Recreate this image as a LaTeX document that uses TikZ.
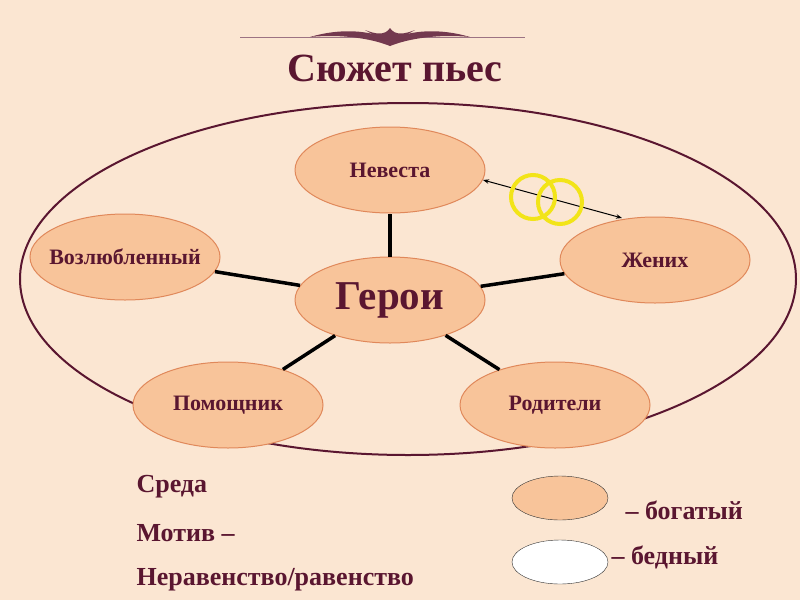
\documentclass[tikz,border=0pt]{standalone}
\usepackage{fontspec}
\setmainfont{Liberation Serif}
\usetikzlibrary{shapes.geometric,arrows.meta}
\definecolor{bg}{HTML}{FBE6D2}
\definecolor{peach}{HTML}{F8C49A}
\definecolor{peachb}{HTML}{E0885A}
\definecolor{maroon}{HTML}{5A1630}
\definecolor{ringy}{HTML}{F2E418}
\begin{document}
\begin{tikzpicture}[x=1pt,y=-1pt,
  hero/.style={ellipse,draw=peachb,fill=peach,line width=1pt,minimum width=190pt,minimum height=86pt,inner sep=0pt,
     label={[font=\bfseries\fontsize{22}{24}\selectfont,text=maroon]center:#1}},
  link/.style={line width=3.5pt,black},
  lab/.style={anchor=west,font=\bfseries\fontsize{26}{28}\selectfont,text=maroon}]
\useasboundingbox[fill=bg] (0,0) rectangle (800,600);
% ornament
\draw[maroon!60,line width=1pt] (240,37) -- (525,37);
\fill[maroon!85] (310,37) .. controls (340,28) and (370,30) .. (390,40) .. controls (410,30) and (440,28) .. (470,37) .. controls (440,34) and (410,38) .. (390,46) .. controls (370,38) and (340,34) .. (310,37);
\fill[maroon!85] (365,30) .. controls (375,36) and (385,40) .. (390,46) .. controls (395,40) and (405,36) .. (415,30) .. controls (405,34) and (395,36) .. (390,28) .. controls (385,36) and (375,34) .. (365,30);
\node[font=\bfseries\fontsize{40}{42}\selectfont,text=maroon] (title) at (395,68) {Сюжет пьес};
\draw[maroon,line width=2pt] (408,279) ellipse [x radius=388pt, y radius=176pt];
\node[hero=Невеста] (nev) at (390,170) {};
\node[hero=Жених] (zhe) at (655,260) {};
\node[hero=Возлюбленный] (voz) at (125,257) {};
\node[hero=Помощник] (pom) at (228,405) {};
\node[hero=Родители] (rod) at (555,405) {};
\node[ellipse,draw=peachb,fill=peach,line width=1pt,minimum width=190pt,minimum height=86pt,inner sep=0pt,font=\bfseries\fontsize{41}{43}\selectfont,text=maroon] (ger) at (390,300) {Герои};
\draw[link] (ger) -- (nev);
\draw[link] (ger) -- (zhe);
\draw[link] (ger) -- (voz);
\draw[link] (ger) -- (pom);
\draw[link] (ger) -- (rod);
\coordinate (a1) at (483,180);
\coordinate (a2) at (622,218);
\draw[{Stealth[length=6pt]}-{Stealth[length=6pt]},line width=1pt] (a1) -- (a2);
\draw[ringy,line width=4pt] (533,197) circle (22pt) (560,202) circle (22pt);
% legend
\node[ellipse,draw=black!80,fill=peach,minimum width=96pt,minimum height=44pt] (rich) at (560,498) {};
\node[ellipse,draw=black!80,fill=white,minimum width=96pt,minimum height=44pt] (poor) at (560,562) {};
\node[lab] (t1) at (622,510) {– богатый};
\node[lab] (t2) at (608,557) {– бедный};
\node[lab] (s1) at (133,487) {Среда};
\node[lab] (s2) at (133,533) {Мотив –};
\node[lab] (s3) at (133,580) {Неравенство/равенство};
\end{tikzpicture}
\end{document}
